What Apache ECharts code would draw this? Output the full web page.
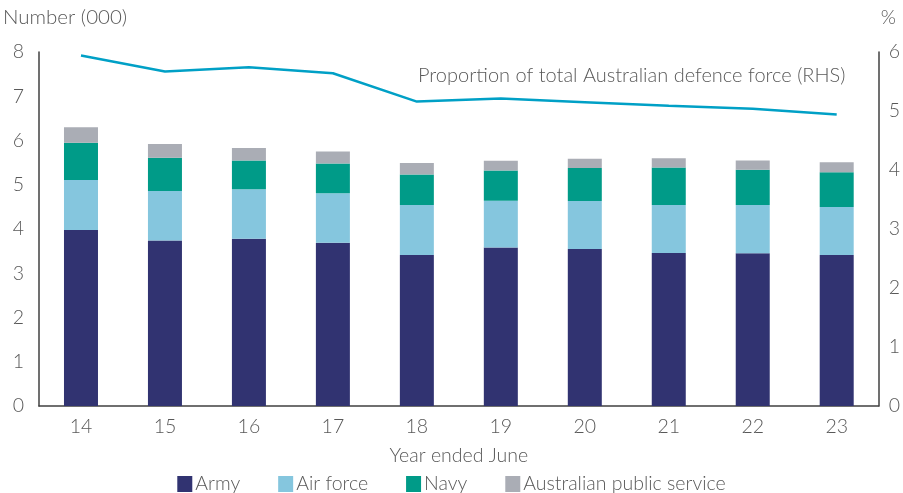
<!DOCTYPE html>
<html>
<head>
<meta charset="utf-8">
<script src="https://cdn.jsdelivr.net/npm/echarts@6/dist/echarts.min.js"></script>
<style>
  html, body { margin: 0; padding: 0; background: #fff; }
  #chart { width: 903px; height: 493px; }
</style>
</head>
<body>
<div id="chart"></div>
<script>
// 年份（截至6月）
const years = ['14', '15', '16', '17', '18', '19', '20', '21', '22', '23']
// 人数（千人）
const army = [3.98, 3.74, 3.78, 3.69, 3.41, 3.58, 3.55, 3.46, 3.45, 3.41]
const airForce = [1.13, 1.12, 1.12, 1.12, 1.13, 1.06, 1.08, 1.08, 1.09, 1.09]
const navy = [0.84, 0.75, 0.65, 0.67, 0.69, 0.68, 0.75, 0.85, 0.80, 0.78]
const publicService = [0.35, 0.31, 0.28, 0.27, 0.26, 0.22, 0.21, 0.21, 0.21, 0.23]
// 占国防军总数比例（%，右轴）
const proportion = [5.94, 5.67, 5.74, 5.64, 5.16, 5.21, 5.15, 5.09, 5.04, 4.94]

const fontFamily = 'Lato, "Open Sans", sans-serif'
const textColor = '#595959'
const fontWeight = 300

const chart = echarts.init(document.getElementById('chart'))

function barSeries(name, data, color) {
  return {
    name: name,
    type: 'bar',
    stack: 'total',
    barWidth: 34,
    yAxisIndex: 0,
    itemStyle: { color: color },
    data: data
  }
}

const option = {
  animation: false,
  textStyle: { fontFamily: fontFamily, fontWeight: fontWeight },
  grid: { left: 39, right: 22, top: 52, bottom: 87, containLabel: false },
  legend: {
    bottom: -6,
    left: 'center',
    itemWidth: 15,
    itemHeight: 16,
    itemGap: 38,
    icon: 'rect',
    textStyle: { fontSize: 19.5, color: textColor, fontFamily: fontFamily, fontWeight: fontWeight, padding: [0, 0, 0, -2] },
    data: ['Army', 'Air force', 'Navy', 'Australian public service']
  },
  xAxis: {
    type: 'category',
    data: years,
    name: 'Year ended June',
    nameLocation: 'middle',
    nameGap: 40,
    nameTextStyle: { fontSize: 19.5, color: textColor, fontWeight: fontWeight },
    axisLine: { lineStyle: { color: '#404040', width: 1.5 } },
    axisTick: { show: false },
    axisLabel: { fontSize: 19.5, color: textColor, fontWeight: fontWeight, margin: 11 }
  },
  yAxis: [
    {
      type: 'value',
      min: 0,
      max: 8,
      interval: 1,
      name: 'Number (000)',
      nameLocation: 'end',
      nameGap: 24,
      nameTextStyle: { fontSize: 20.5, color: textColor, fontWeight: fontWeight, align: 'left', padding: [0, 0, 0, -36] },
      axisLine: { show: true, lineStyle: { color: '#404040', width: 1.5 } },
      axisTick: { show: false },
      splitLine: { show: false },
      axisLabel: { fontSize: 19.5, color: textColor, fontWeight: fontWeight, margin: 15 }
    },
    {
      type: 'value',
      min: 0,
      max: 6,
      interval: 1,
      name: '%',
      nameLocation: 'end',
      nameGap: 24,
      nameTextStyle: { fontSize: 19.5, color: textColor, fontWeight: fontWeight, align: 'left', padding: [0, 0, 0, 2] },
      axisLine: { show: true, lineStyle: { color: '#404040', width: 1.5 } },
      axisTick: { show: false },
      splitLine: { show: false },
      axisLabel: { fontSize: 19.5, color: textColor, fontWeight: fontWeight, margin: 10 }
    }
  ],
  graphic: [
    {
      type: 'text',
      left: 418,
      top: 66,
      style: {
        text: 'Proportion of total Australian defence force (RHS)',
        fontSize: 20,
        fill: textColor,
        fontFamily: fontFamily,
        fontWeight: fontWeight
      }
    }
  ],
  series: [
    barSeries('Army', army, '#313371'),
    barSeries('Air force', airForce, '#85C6DE'),
    barSeries('Navy', navy, '#009B88'),
    barSeries('Australian public service', publicService, '#AAADB5'),
    {
      name: 'Proportion',
      type: 'line',
      yAxisIndex: 1,
      symbol: 'none',
      lineStyle: { color: '#00A0C6', width: 2.5 },
      itemStyle: { color: '#00A0C6' },
      data: proportion
    }
  ]
}

chart.setOption(option)
</script>
</body>
</html>
